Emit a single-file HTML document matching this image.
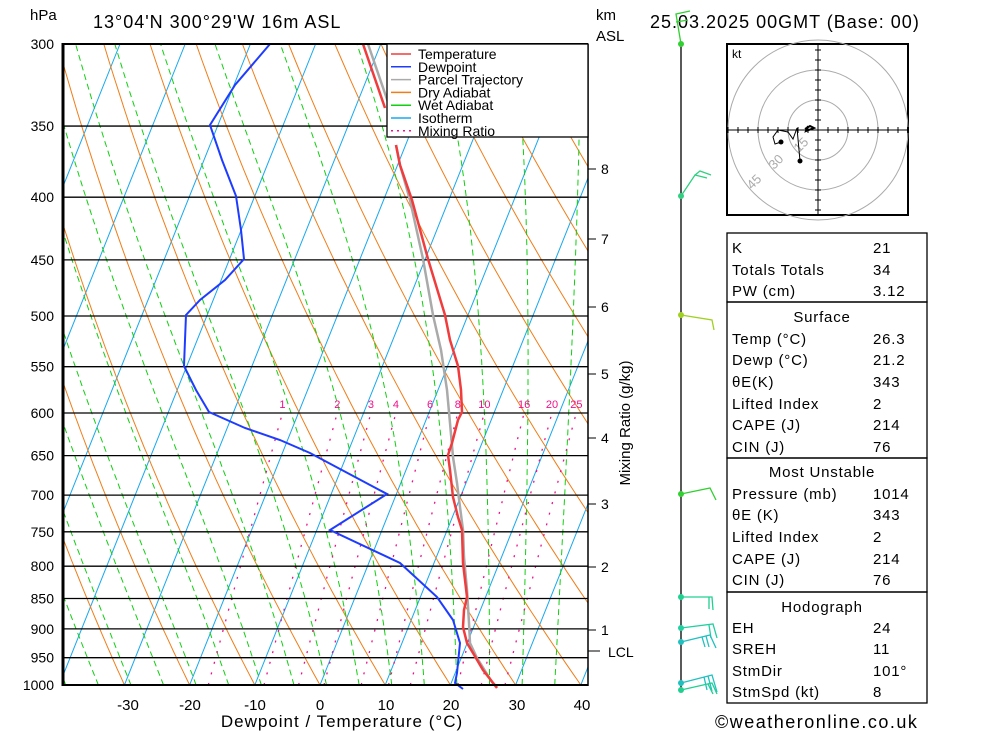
<!DOCTYPE html>
<html><head><meta charset="utf-8"><style>
body{margin:0;background:#fff;width:1000px;height:733px;overflow:hidden}
svg{position:absolute;left:0;top:0}
text{font-family:"Liberation Sans",sans-serif}
</style></head><body>
<svg id="s" width="1000" height="733" xmlns="http://www.w3.org/2000/svg">
<defs><clipPath id="c"><rect x="63" y="44" width="525" height="641"/></clipPath></defs>
<g id="bg" clip-path="url(#c)"></g>
<g id="fg"></g>
</svg>
<script>
var NS="http://www.w3.org/2000/svg";
function el(par,tag,a,txt){var e=document.createElementNS(NS,tag);for(var k in a)e.setAttribute(k,a[k]);if(txt!=null)e.textContent=txt;document.getElementById(par).appendChild(e);return e;}
function Y(p){return 685-Math.log(1000/p)/Math.log(1000/300)*641;}
function X(T,p){return 320+6.52*T+0.4*(685-Y(p));}
function pl(par,pts,a){a.points=pts.map(function(q){return q[0].toFixed(1)+","+q[1].toFixed(1)}).join(" ");a.fill="none";return el(par,"polyline",a);}
for(var T=-150;T<=50;T+=10){pl("bg",[[X(T,1000),685],[X(T,300),44]],{stroke:"#18a8f0","stroke-width":1});}
for(var th=-40;th<=220;th+=10){var pts=[];for(var p=1000;p>=295;p-=10){var Tk=(th+273.15)*Math.pow(p/1000,0.286)-273.15;pts.push([X(Tk,p),Y(p)]);}pl("bg",pts,{stroke:"#f07d18","stroke-width":1});}
function es(T){return 6.112*Math.exp(17.67*T/(T+243.5));}
for(var tw=-44;tw<=36;tw+=5){var Tc=tw,pts=[];for(var p=1000;p>=295;p-=5){pts.push([X(Tc,p),Y(p)]);var Tk=Tc+273.15,rs=0.622*es(Tc)/(p-es(Tc));var d=(287*Tk+2.5e6*rs)/(1004+2.5e6*2.5e6*rs*0.622/(287*Tk*Tk))/p;Tc-=d*5;}pl("bg",pts,{stroke:"#10d010","stroke-width":1,"stroke-dasharray":"6,4"});}
var ws=[1,2,3,4,6,8,10,16,20,25],off=[4,6,7,8,7,9,15,10,16,18];
ws.forEach(function(w,i){var pts=[];for(var p=1000;p>=600;p-=10){var e=w*p/(622+w),l=Math.log(e/6.112),Td=243.5*l/(17.67-l);var y=Y(p);pts.push([X(Td,p)+off[i]*(685-y)/273,y]);}pl("bg",pts,{stroke:"#f0108c","stroke-width":1.3,"stroke-dasharray":"2,9"});
var e=w*600/(622+w),l=Math.log(e/6.112),Td=243.5*l/(17.67-l);el("fg","text",{x:X(Td,600)+off[i],y:408,"font-size":11,fill:"#f0108c","text-anchor":"middle"},String(w));});
var lev=[300,350,400,450,500,550,600,650,700,750,800,850,900,950,1000];
lev.forEach(function(p){var y=Y(p);el("fg","line",{x1:63,x2:588,y1:y,y2:y,stroke:"#000","stroke-width":1.3});el("fg","text",{x:54,y:y+5,"font-size":14,"text-anchor":"end"},String(p));});
pl("fg",[[270,44],[235,85],[210,125],[222,160],[236,196],[241,230],[244,259],[225,280],[200,300],[186,315],[185,340],[184,366],[196,390],[209,412],[245,428],[280,440],[310,453],[387,494],[330,530],[400,563],[437,597],[453,620],[460,643],[457,673],[455,683],[463,689]],{stroke:"#1e3cff","stroke-width":2});
pl("fg",[[368,44],[390,108]],{stroke:"#aaa","stroke-width":2.5});
pl("fg",[[396,145],[400,165],[410,200],[423,259],[433,315],[441,350],[447,390],[450,423],[453,457],[457,483],[460,507],[463,530],[464,557],[467,590],[469,623],[470,643],[477,658],[492,682],[497,687]],{stroke:"#aaa","stroke-width":2.5});
pl("fg",[[363,44],[385,108]],{stroke:"#f03c3c","stroke-width":2.5});
pl("fg",[[396,145],[400,165],[412,200],[428,259],[445,315],[450,340],[458,366],[461,390],[462,412],[458,420],[452,443],[448,455],[450,470],[453,497],[458,517],[462,530],[463,563],[467,597],[464,610],[463,627],[467,643],[473,653],[483,670],[497,688]],{stroke:"#f03c3c","stroke-width":2.5});
el("fg","line",{x1:63,x2:63,y1:43,y2:686,stroke:"#000","stroke-width":3});
el("fg","line",{x1:63,x2:588,y1:685,y2:685,stroke:"#000","stroke-width":2});
el("fg","line",{x1:63,x2:588,y1:44,y2:44,stroke:"#000","stroke-width":2});
el("fg","line",{x1:588,x2:588,y1:44,y2:686,stroke:"#000","stroke-width":1.5});
[[-30,128],[-20,190],[-10,255],[0,320],[10,386],[20,451],[30,517],[40,582]].forEach(function(a){el("fg","text",{x:a[1],y:710,"font-size":15,"text-anchor":"middle"},String(a[0]));});
el("fg","text",{x:342,y:727,"font-size":17,"text-anchor":"middle","letter-spacing":"1"},"Dewpoint / Temperature (°C)");
[[8,169],[7,239],[6,307],[5,374],[4,438],[3,504],[2,567],[1,630]].forEach(function(a){el("fg","line",{x1:588,x2:596,y1:a[1],y2:a[1],stroke:"#000"});el("fg","text",{x:601,y:a[1]+5,"font-size":14},String(a[0]));});
el("fg","line",{x1:588,x2:600,y1:651,y2:651,stroke:"#000"});
el("fg","text",{x:608,y:657,"font-size":14},"LCL");
el("fg","text",{x:630,y:423,"font-size":15,"text-anchor":"middle",transform:"rotate(-90 630 423)"},"Mixing Ratio (g/kg)");
el("fg","text",{x:30,y:20,"font-size":15},"hPa");
el("fg","text",{x:93,y:28,"font-size":18,"letter-spacing":"1"},"13°04'N  300°29'W  16m  ASL");
el("fg","text",{x:596,y:20,"font-size":15},"km");
el("fg","text",{x:596,y:41,"font-size":15},"ASL");
el("fg","text",{x:650,y:28,"font-size":18,"letter-spacing":"1"},"25.03.2025  00GMT  (Base: 00)");
el("fg","rect",{x:387,y:44,width:201,height:93,fill:"#fff",stroke:"#000","stroke-width":1.3});
[["Temperature","#f03c3c",""],["Dewpoint","#1e3cff",""],["Parcel Trajectory","#aaa",""],["Dry Adiabat","#f07d18",""],["Wet Adiabat","#10d010",""],["Isotherm","#18a8f0",""],["Mixing Ratio","#f0108c","2,4"]].forEach(function(a,i){var y=54+i*12.8;el("fg","line",{x1:391,x2:411,y1:y,y2:y,stroke:a[1],"stroke-width":1.5,"stroke-dasharray":a[2]||"none"});el("fg","text",{x:418,y:y+5,"font-size":14},a[0]);});
el("fg","line",{x1:681,x2:681,y1:44,y2:688,stroke:"#000","stroke-width":1.3});
function barb(y,c,pts){el("fg","circle",{cx:681,cy:y,r:3,fill:c});pts.forEach(function(s){pl("fg",s,{stroke:c,"stroke-width":1.3});});}
barb(44,"#30d030",[[[681,44],[676,14],[690,11]],[[676,22],[688,20]]]);
barb(196,"#30d080",[[[681,196],[695,175],[707,178]],[[695,175],[700,171],[711,175]]]);
barb(315,"#a0d020",[[[681,315],[712,320],[714,330]]]);
barb(494,"#30d030",[[[681,494],[710,488],[716,500]]]);
barb(597,"#20d090",[[[681,597],[712,597],[713,610]],[[709,597],[709,609]]]);
barb(628,"#20d0a0",[[[681,628],[713,624],[717,638]],[[709,625],[711,638]]]);
barb(642,"#20c0c0",[[[681,642],[710,635],[716,648]],[[706,636],[709,647]],[[702,637],[705,647]]]);
barb(683,"#20c0c0",[[[681,683],[712,675],[717,692]],[[708,676],[712,691]],[[704,677],[707,690]]]);
barb(690,"#20d090",[[[681,690],[712,683],[717,694]],[[708,684],[713,694]]]);
el("fg","rect",{x:727,y:44,width:181,height:171,fill:"#fff",stroke:"#000","stroke-width":2});
[30,60,90].forEach(function(r){el("fg","circle",{cx:818,cy:130,r:r,fill:"none",stroke:"#aaa"});});
el("fg","line",{x1:727,x2:908,y1:130,y2:130,stroke:"#000"});el("fg","line",{x1:818,x2:818,y1:44,y2:215,stroke:"#000"});
for(var i=-9;i<=9;i++){if(!i)continue;var d=i*10;el("fg","line",{x1:818+d,x2:818+d,y1:127,y2:133,stroke:"#000"});if(Math.abs(d)<86)el("fg","line",{x1:815,x2:821,y1:130+d,y2:130+d,stroke:"#000"});}
el("fg","text",{x:732,y:58,"font-size":12},"kt");
[["15",799,153],["30",774,170],["45",752,190]].forEach(function(a){el("fg","text",{x:a[1],y:a[2],"font-size":13,fill:"#aaa",transform:"rotate(-45 "+a[1]+" "+a[2]+")"},a[0]);});
pl("fg",[[800,161],[797,128],[793,139],[788,132],[778,130],[773,137],[775,144],[781,142]],{stroke:"#000","stroke-width":1});
pl("fg",[[805,129],[810,126],[814,128],[806,131],[808,126]],{stroke:"#000","stroke-width":2});
el("fg","circle",{cx:800,cy:161,r:2.5,fill:"#000"});el("fg","circle",{cx:781,cy:142,r:2.5,fill:"#000"});
[[727,233,200,69],[727,302,200,156],[727,458,200,134],[727,592,200,111]].forEach(function(r){el("fg","rect",{x:r[0],y:r[1],width:r[2],height:r[3],fill:"none",stroke:"#000","stroke-width":1.3});});
var rows=[["K","21",247],["Totals Totals","34",269],["PW (cm)","3.12",290],["Temp (°C)","26.3",338],["Dewp (°C)","21.2",359],["θE(K)","343",381],["Lifted Index","2",403],["CAPE (J)","214",424],["CIN (J)","76",446],["Pressure (mb)","1014",493],["θE (K)","343",514],["Lifted Index","2",536],["CAPE (J)","214",558],["CIN (J)","76",579],["EH","24",627],["SREH","11",648],["StmDir","101°",670],["StmSpd (kt)","8",691]];
rows.forEach(function(r){el("fg","text",{x:732,y:r[2]+6,"font-size":15,"letter-spacing":"0.8"},r[0]);el("fg","text",{x:873,y:r[2]+6,"font-size":15,"letter-spacing":"0.8"},r[1]);});
[["Surface",316],["Most Unstable",471],["Hodograph",606]].forEach(function(a){el("fg","text",{x:822,y:a[1]+6,"font-size":15,"text-anchor":"middle","letter-spacing":"0.8"},a[0]);});
el("fg","text",{x:715,y:728,"font-size":18,"letter-spacing":"1.5"},"©weatheronline.co.uk");
</script>
</body></html>
